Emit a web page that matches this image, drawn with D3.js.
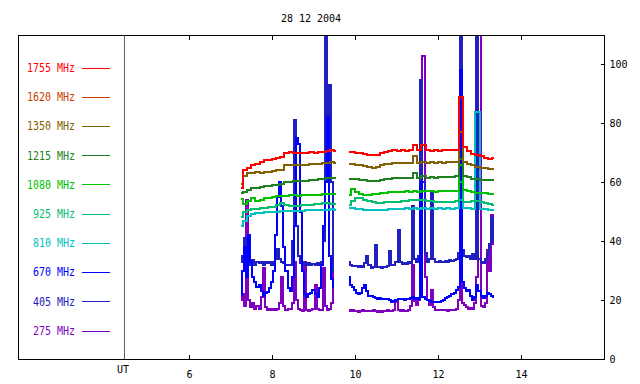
<!DOCTYPE html>
<html><head><meta charset="utf-8">
<script src="https://cdn.jsdelivr.net/npm/d3@7"></script>
<style>
body{margin:0;background:#fff}
svg{display:block}
text{font-family:"DejaVu Sans Mono",monospace}
</style>
</head><body>
<svg id="chart" width="640" height="384"></svg>
<script>
// ---------- data ----------
const chartTitle = "28 12 2004";
const legendLabels = ["1755 MHz","1620 MHz","1350 MHz","1215 MHz","1080 MHz","925 MHz","810 MHz","670 MHz","405 MHz","275 MHz"];
const legendColors = ["#ff0000","#c84000","#806000","#208020","#00c000","#00c070","#00c0c0","#0000ff","#2020c0","#8000c0"];
const xTicks = [6, 8, 10, 12, 14];
const yTicks = [0, 20, 40, 60, 80, 100];
const xAxisLabel = "UT";

const seg1Start = 7.25, seg2Start = 9.85;
const coarseStep = 0.1, fineStep = 0.05;

// 1755 MHz
const f1755a = [58,64,65,65.8,66.2,66.8,67.4,67.6,68,68.3,68.6,70,70.2,70,69.8,70,70,70.2,70,70.3,70.4,70.6,70.8,70.5];
const f1755b = [70.3,70.2,70,69.8,69.5,69.3,69.1,69.2,69.8,70.4,70.6,70.8,70.6,70.8,70.7,70.9,72.5,70.8,72.5,70.8,70.6,70.9,70.7,70.8,70.9,71,71.1,89,72,70.5,69.5,69.2,68.8,68.4,68,68.2];
// 1350 MHz
const f1350a = [59.5,62,63,63.2,63.4,63.2,63.5,63.6,63.8,64,64.3,65.8,66,65.8,66,66,65.8,66.1,66.3,66.2,66.4,66.5,66.8,66.5];
const f1350b = [66.3,66.2,66,65.8,65.6,65.3,65,65.2,65.8,66.1,66.3,66.5,66.6,66.5,66.7,66.6,69,66.7,67,66.6,66.8,66.7,66.9,66.7,66.8,66.9,67,77,66.8,66.3,65.7,65.2,65,64.8,64.5,64.4];
// 1215 MHz
const f1215a = [56.3,56.6,57.5,58,58.2,58.4,58.6,58.8,59,59.2,59.4,60,60.2,60.3,60.4,60.5,60.6,60.7,60.8,61,61.2,61.3,61.5,61.3];
const f1215b = [61.2,61.1,61,60.8,60.7,60.6,60.5,60.6,60.8,61,61.1,61.3,61.4,61.5,61.4,61.6,63,61.6,62,61.6,61.7,61.6,61.8,61.7,61.8,61.9,62,68,62.2,61.8,61.2,61,60.9,60.8,60.7,60.8];
// 1080 MHz
const f1080a = [54.2,52.6,53.8,54.6,53.8,54,54.6,54.8,55,55.3,55.3,55.5,55.6,55.6,55.5,55.7,55.6,55.6,55.8,55.7,55.9,56,56,56.1];
const f1080b = [55.6,57.8,56.8,56.1,55.6,55.7,56,56.1,56.3,56.5,56.7,56.6,56.8,56.7,56.9,56.8,57,56.8,57.1,56.9,57,56.8,57.1,57,56.9,57.1,57.2,66,57.4,57.1,56.6,56.5,56.3,56.2,56,56];
// 925 MHz
const f925a = [48.2,49.9,50.7,50.9,51,51.2,51.4,51.6,51.7,52.4,52.8,52.2,51.9,52,52.1,52.2,52.2,52.4,52.5,52.6,52.8,52.8,52.6,52.5];
const f925b = [52.2,53.7,54.6,54.8,54.1,53.6,53.2,53,53.1,53.3,53.3,53.4,53.3,53.5,53.8,54,54.1,54,53.9,53.7,53.6,53.4,53.3,53.3,53.4,53.3,53.5,60,53.4,53.3,53.6,53.7,53.2,52.8,52.5,52.2];
// 810 MHz
const f810a = [45,47,48.6,49.2,49.6,49.7,49.8,49.9,50,50,50.1,50.2,50.3,50.3,50.4,50.3,50.5,50.5,50.6,50.5,50.6,50.7,50.8,50.7];
const f810b = [51.3,51.2,51,50.8,50.7,50.6,50.5,50.5,50.6,50.7,50.8,50.9,51,51,51.1,51,51.1,51,51.1,51,51.1,51,51.1,51,51.1,51,51.1,54,51.2,51.1,51,84,50.9,50.8,50.6,50.5];
// 670 MHz
const f670a = [21.7,30,38,28,42,33,28,26,24.5,25,23,21.5,22.5,22.8,24,26,30,42,55,60,52,38,30,24,23,28,45,75,73,50,30,22,21,22,22.5,23.4,22,21,24,32,45,60,82,35,27,24.5];
const f670b = [27.8,25,24.4,23.5,22.4,22,22.5,24,25,23,21.4,21.4,21,20.7,20.5,20.7,20.5,20.3,20.5,20.3,20,19.5,19.8,20.2,20.5,20.3,20.5,20.2,20.5,20.3,20.6,21,20.5,20.7,20.4,60,21,20.5,20,19.6,19.3,19.5,19.3,19.3,19.5,19.8,20.2,20.7,21,21.4,22,22.5,23.4,24.4,98,26,24,23,23.5,21.5,20,21,25,23,21.5,20.7,21.5,22.4,22,21.5,21];
// 405 MHz
const f405a = [35,33,41,31,35,32,33.5,32,33,32.5,33,32,33,32.5,33,32,33,34,37.5,34,33,32.5,32,31.8,32,40,81,45,35,32.5,32,32.5,32,32.5,32,32.3,32,32.5,32,33,40,120,70,93,60,30];
const f405b = [33,32,31.6,31.5,31.6,31.3,31.5,31.4,32.5,35,32,31,31.2,38.6,31.3,31.2,31,31.3,31.2,31.5,36.6,32,31.8,33,43.7,33,32.2,32.5,32.2,33,32.5,52,34,33,35,94.6,60,36,33,34,57,34,33,32.8,33.2,32.8,33,33.3,33,33.5,33.2,33.6,34,36,120,37,35,34.6,35,34,35.5,34,120,34,33,32.5,34,36,39,48,40];
// 275 MHz
const f275a = [20,22,18,54,20,17.5,19,17,18,17,21,31,17.5,16.5,17,16.5,17,16.8,17,19,28,18,16.8,17,17,19,33,20,17,16.5,16.3,33,16.5,16.3,16.5,17,25,17,16.5,16.6,31,18,16.5,17,19,49];
const f275b = [16.8,16.3,16.5,16.2,16.4,16,16.2,16.5,16.3,16.2,16.4,16.2,16.5,16.3,16,16.3,16.1,16.4,16.2,16.5,16.2,16.4,16.6,19.3,16.5,16.3,16.5,16.4,16.2,16.5,18,32,19.7,18.5,20,37,103,28,20,18.5,23.4,17.5,16.8,16.6,16.5,16.7,16.5,16.6,16.4,16.6,16.5,16.8,17,20,47,19,18.5,17.5,17,17.2,17,19,28,120,18,17.5,19,37,30,49,39];

// drawing order: low frequencies first, 1755 on top
const seriesList = [
  {label:"275 MHz",  step:fineStep,   segs:[f275a, f275b]},
  {label:"405 MHz",  step:fineStep,   segs:[f405a, f405b]},
  {label:"670 MHz",  step:fineStep,   segs:[f670a, f670b]},
  {label:"810 MHz",  step:coarseStep, segs:[f810a, f810b]},
  {label:"925 MHz",  step:coarseStep, segs:[f925a, f925b]},
  {label:"1080 MHz", step:coarseStep, segs:[f1080a, f1080b]},
  {label:"1215 MHz", step:coarseStep, segs:[f1215a, f1215b]},
  {label:"1350 MHz", step:coarseStep, segs:[f1350a, f1350b]},
  {label:"1755 MHz", step:coarseStep, segs:[f1755a, f1755b]}
];
const segStarts = [seg1Start, seg2Start];

// ---------- layout ----------
const frameL = 18, frameR = 604, frameT = 35, frameB = 359, utX = 124;
const svg = d3.select("#chart");
const x = d3.scaleLinear().domain([6, 16]).range([189, frameR]);
const y = d3.scaleLinear().domain([0, 110]).range([frameB, frameT]);
const colorOf = d3.scaleOrdinal().domain(legendLabels).range(legendColors);

svg.append("defs").append("clipPath").attr("id","plotclip")
  .append("rect").attr("x", frameL).attr("y", frameT).attr("width", frameR-frameL).attr("height", frameB-frameT);

// title
svg.append("text").attr("x", 311).attr("y", 22).attr("text-anchor","middle")
  .attr("font-size", 10).attr("fill","#000").text(chartTitle);

// data lines
const line = d3.line().x(d => x(d[0])).y(d => y(d[1])).curve(d3.curveStep);
const plot = svg.append("g").attr("clip-path","url(#plotclip)");
seriesList.forEach(s => {
  s.segs.forEach((vals, k) => {
    const pts = vals.map((v, i) => [segStarts[k] + i * s.step, v]);
    plot.append("path").attr("d", line(pts)).attr("fill","none")
      .attr("stroke", colorOf(s.label))
      .attr("stroke-width", 2)
      .attr("shape-rendering","crispEdges")
      .attr("stroke-linejoin","miter");
  });
});

// frame
svg.append("rect").attr("x", frameL+0.5).attr("y", frameT+0.5)
  .attr("width", frameR-frameL).attr("height", frameB-frameT)
  .attr("fill","none").attr("stroke","#000").attr("stroke-width",1).attr("shape-rendering","crispEdges");
svg.append("line").attr("x1", utX+0.5).attr("x2", utX+0.5).attr("y1", frameT).attr("y2", frameB)
  .attr("stroke","#606060").attr("stroke-width",1).attr("shape-rendering","crispEdges");

// x axis ticks (bottom, pointing up) and top ticks (pointing down)
const gx = svg.append("g").attr("transform", `translate(0,${frameB+0.5})`)
  .call(d3.axisBottom(x).tickValues(xTicks).tickSizeInner(-5).tickSizeOuter(0).tickPadding(11).tickFormat(d3.format("d")));
gx.select(".domain").remove();
gx.selectAll("text").attr("font-size", 10).attr("font-family","DejaVu Sans Mono").attr("fill","#000");
gx.selectAll("line").attr("stroke","#000").attr("shape-rendering","crispEdges");
const gxt = svg.append("g").attr("transform", `translate(0,${frameT+0.5})`)
  .call(d3.axisTop(x).tickValues(xTicks).tickSizeInner(-4).tickSizeOuter(0).tickFormat(""));
gxt.select(".domain").remove();
gxt.selectAll("line").attr("stroke","#000").attr("shape-rendering","crispEdges");

svg.append("text").attr("x", utX - 1).attr("y", 373).attr("text-anchor","middle")
  .attr("font-size", 10).attr("fill","#000").text(xAxisLabel);

// y axis on right
const gy = svg.append("g").attr("transform", `translate(${frameR+0.5},0)`)
  .call(d3.axisRight(y).tickValues(yTicks).tickSizeInner(-4).tickSizeOuter(0).tickPadding(5).tickFormat(d3.format("d")));
gy.select(".domain").remove();
gy.selectAll("text").attr("font-size", 10).attr("font-family","DejaVu Sans Mono").attr("fill","#000");
gy.selectAll("line").attr("stroke","#000").attr("shape-rendering","crispEdges");

// legend
const legendY = d3.scaleLinear().domain([0, legendLabels.length - 1]).range([67.5, 330.5]);
const lg = svg.append("g");
legendLabels.forEach((lab, i) => {
  const yy = legendY(i);
  const w = lab.length * 6;
  lg.append("text").attr("x", 75 - w).attr("y", yy + 4.4)
    .attr("font-size", 12).attr("textLength", w).attr("lengthAdjust","spacingAndGlyphs")
    .attr("fill", legendColors[i]).text(lab);
  lg.append("line").attr("x1", 82).attr("x2", 110).attr("y1", Math.round(yy)+0.5).attr("y2", Math.round(yy)+0.5)
    .attr("stroke", legendColors[i]).attr("stroke-width", 1).attr("shape-rendering","crispEdges");
});
</script>
</body></html>
